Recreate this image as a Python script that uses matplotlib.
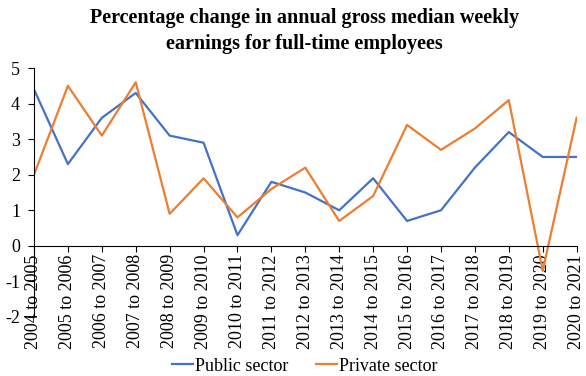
import matplotlib
matplotlib.use('Agg')
import matplotlib.pyplot as plt

periods = ['2004 to 2005', '2005 to 2006', '2006 to 2007', '2007 to 2008',
           '2008 to 2009', '2009 to 2010', '2010 to 2011', '2011 to 2012',
           '2012 to 2013', '2013 to 2014', '2014 to 2015', '2015 to 2016',
           '2016 to 2017', '2017 to 2018', '2018 to 2019', '2019 to 2020',
           '2020 to 2021']
public_sector = [4.4, 2.3, 3.6, 4.3, 3.1, 2.9, 0.3, 1.8, 1.5, 1.0, 1.9, 0.7, 1.0, 2.2, 3.2, 2.5, 2.5]
private_sector = [2.0, 4.5, 3.1, 4.6, 0.9, 1.9, 0.8, 1.6, 2.2, 0.7, 1.4, 3.4, 2.7, 3.3, 4.1, -0.7, 3.6]

plt.rcParams['font.family'] = 'Liberation Serif'
plt.rcParams['axes.unicode_minus'] = False

fig = plt.figure(figsize=(5.86, 3.76), dpi=100)
ax = fig.add_axes([0.058, 0.157, 0.926, 0.662])

x = range(len(periods))
ax.plot(x, public_sector, color='#4472C4', linewidth=1.6, label='Public sector')
ax.plot(x, private_sector, color='#ED7D31', linewidth=1.6, label='Private sector')

ax.set_xlim(0, len(periods) - 1)
ax.set_ylim(-2, 5)
ax.set_yticks(range(-2, 6))

# x axis crosses at zero, labels hang below it
ax.spines['bottom'].set_position(('data', 0))
ax.spines['top'].set_visible(False)
ax.spines['right'].set_visible(False)
ax.spines['left'].set_linewidth(0.8)
ax.spines['bottom'].set_linewidth(0.8)

ax.set_xticks(list(x))
ax.set_xticklabels(periods, rotation=90, fontsize=13)
ax.tick_params(axis='x', direction='out', length=4, pad=2)
ax.tick_params(axis='y', direction='out', length=4, labelsize=13, pad=6)

fig.suptitle('Percentage change in annual gross median weekly\nearnings for full-time employees',
             fontsize=14.5, fontweight='bold', y=0.978, x=0.52, linespacing=1.35)

fig.legend(loc='lower center', ncol=2, frameon=False, fontsize=13,
           handlelength=1.2, handletextpad=0.1, columnspacing=1.5,
           bbox_to_anchor=(0.52, -0.04))

fig.savefig('out.png', dpi=100)
